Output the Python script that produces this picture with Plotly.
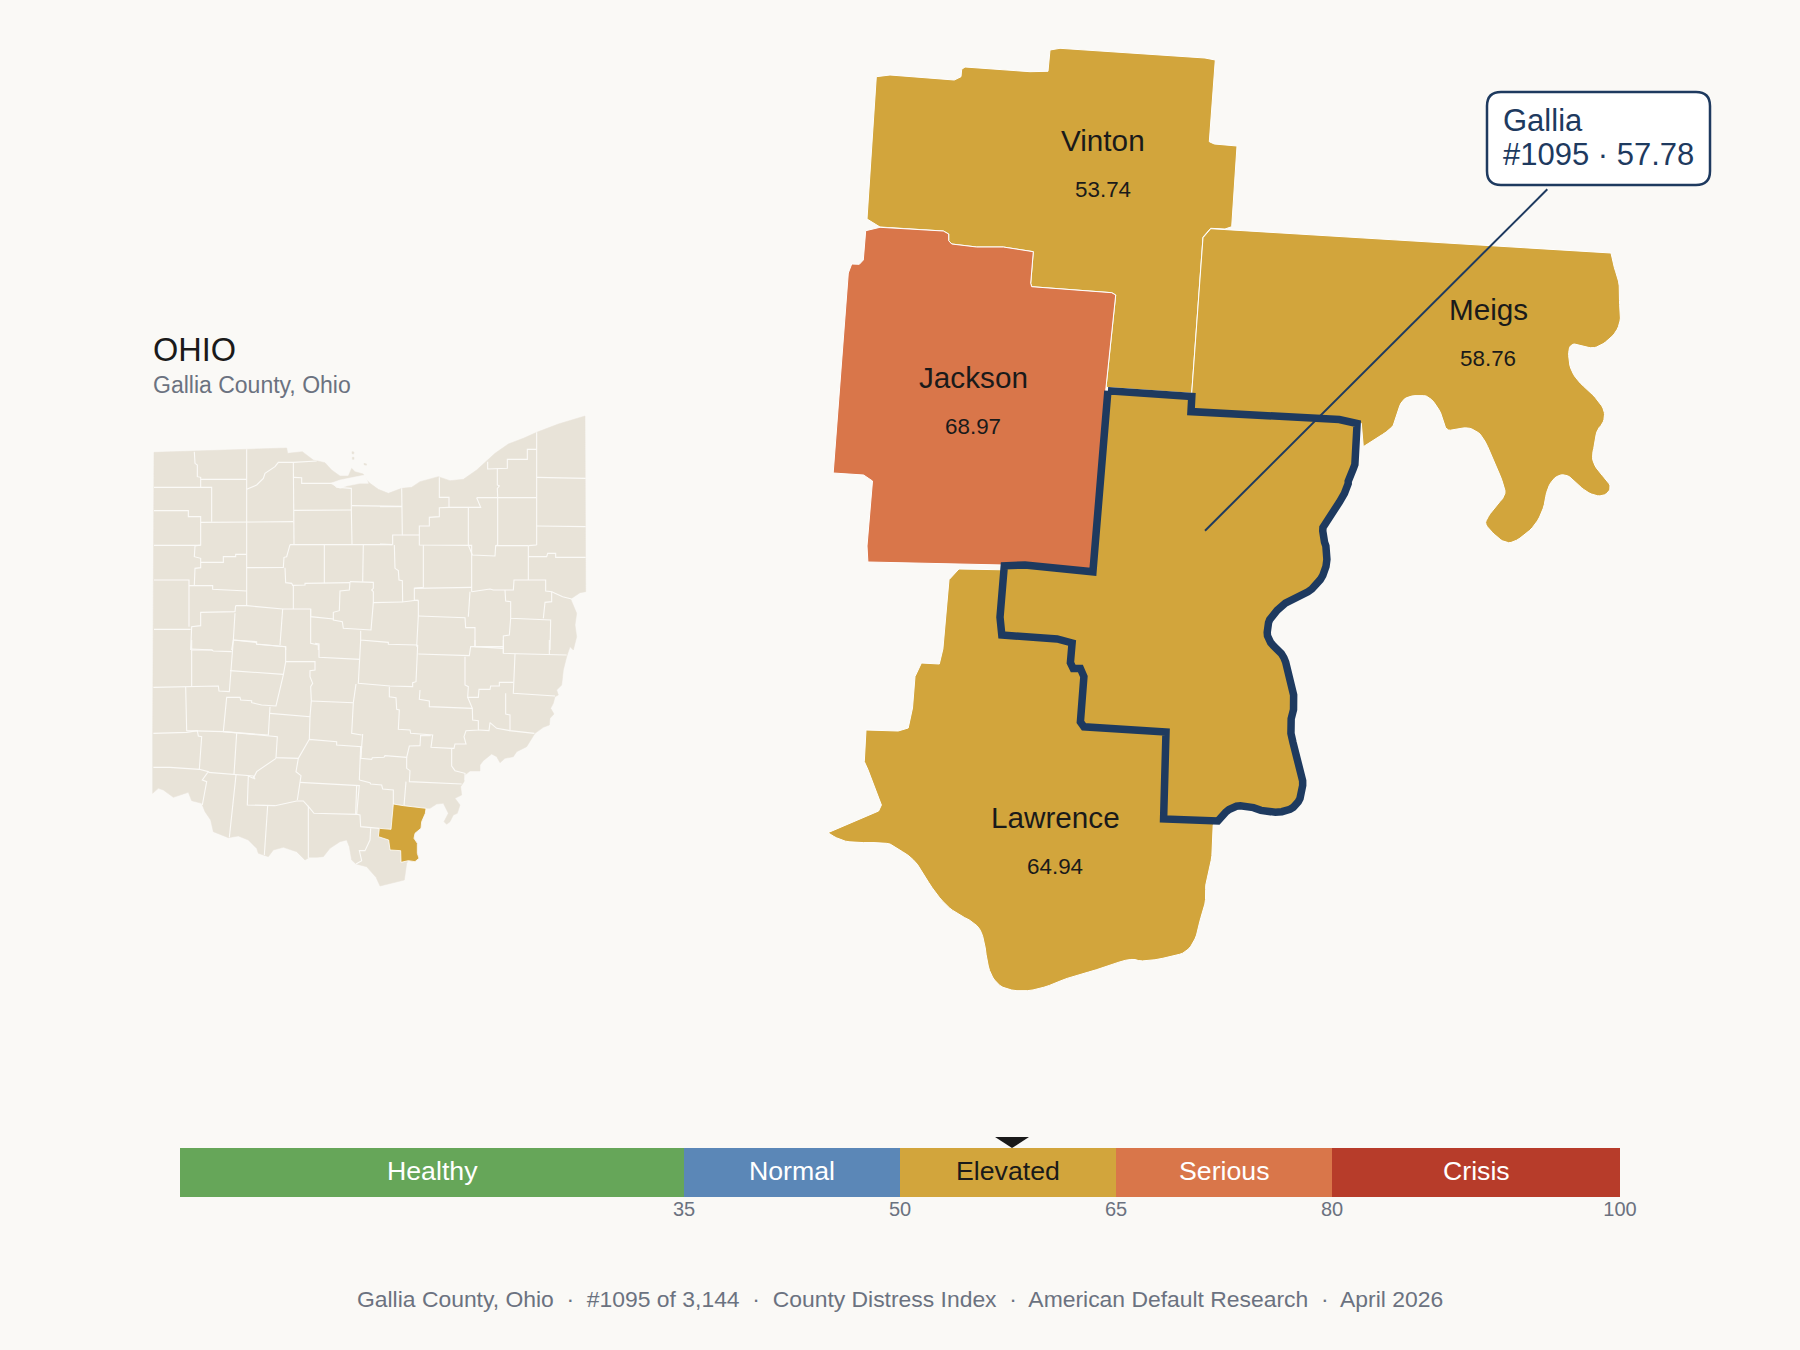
import math

import plotly.graph_objects as go

FONT = "Liberation Sans"
BG = "#faf9f6"
INK = "#1a1a1a"
NAVY = "#1e3a5f"
GREY = "#6b7280"
LAND = "#e8e3d8"
GOLD = "#d2a53c"
ORANGE = "#d9764a"

# score bar
BAND_NAMES = ["Healthy", "Normal", "Elevated", "Serious", "Crisis"]
BAND_EDGES = [0, 35, 50, 65, 80, 100]
BAND_COLORS = ["#66a659", "#5b87b7", GOLD, ORANGE, "#b73c2a"]
BAND_TEXT = ["#ffffff", "#ffffff", INK, "#ffffff", "#ffffff"]
TICK_VALUES = [35, 50, 65, 80, 100]
GALLIA_SCORE = 57.78

# county outlines on the large map
VINTON = [(876.3, 76.7), (890, 75), (954.3, 80), (961, 76.7), (961.7, 69.3), (965, 67), (1030, 71.7), (1048, 71.3),
          (1050, 50), (1060, 48.3), (1205, 58), (1215.3, 60), (1209.3, 141.7), (1214.3, 144), (1237, 146),
          (1231.7, 226.7), (1225, 229), (1210.7, 228.3), (1203, 237), (1191.7, 393.3), (1106, 387.3), (1115.7, 295),
          (1111.7, 292.7), (1031.7, 286.7), (1030.7, 283.3), (1033.3, 251.7), (1003.3, 247), (976.7, 247),
          (951.7, 244), (948.7, 240.7), (948.7, 234), (943.3, 231), (880, 227), (867, 219)]
JACKSON = [(865.7, 230.7), (880, 227.3), (943.3, 231), (948.7, 234), (948.7, 240.7), (951.7, 244), (976.7, 247),
           (1003.3, 247), (1033.3, 251.7), (1030.7, 283.3), (1031.7, 286.7), (1111.7, 292.7), (1115.7, 295),
           (1106, 387.3), (1093, 572), (1003.6, 565), (867.9, 562), (867, 546), (872.5, 481), (863.6, 475),
           (833.2, 473), (839.3, 390), (848.3, 273), (851.7, 264), (859.3, 264.3), (863.3, 260)]
MEIGS = [(1203, 237.7), (1210.7, 228.7), (1611, 253), (1613.3, 265), (1619.7, 283.3), (1619.3, 303.3), (1621, 316.7),
         (1618.3, 328.3), (1611.7, 337.3), (1601.7, 345), (1593.3, 348.3), (1585, 346.7), (1575, 343.3), (1569.3, 346),
         (1568.3, 356.7), (1570.7, 370), (1578.3, 381.7), (1591.7, 393.3), (1601.7, 405), (1605, 413.3), (1603.3, 423.3),
         (1596.7, 430), (1595, 443.3), (1591.7, 456.7), (1595, 466.7), (1603.3, 476.7), (1610.7, 485), (1609.3, 491.7),
         (1601.7, 496.7), (1590, 494), (1580, 486.7), (1570.7, 476.7), (1561.7, 474), (1553.3, 478.3), (1546.7, 490),
         (1544.3, 506.7), (1536.7, 523.3), (1525, 535), (1511.7, 543.3), (1503.3, 541.7), (1496.7, 536.7), (1485, 525),
         (1486.7, 518.3), (1496.7, 505), (1506, 495), (1503.3, 483.3), (1495, 463.3), (1483.3, 436.7), (1475, 430),
         (1466.7, 427.3), (1456.7, 429.3), (1446.7, 430.7), (1444, 423.3), (1440.7, 411.7), (1430, 396.7), (1420, 395),
         (1406.7, 396.7), (1400, 403.3), (1396, 420), (1391.7, 428.3), (1376.7, 438.3), (1363.3, 446.7), (1361.3, 423.3),
         (1190, 413.3), (1191.7, 393.3)]
LAWRENCE = [(949, 579.7), (958.9, 569), (1003.6, 569.8), (1001.8, 635), (1057.1, 639), (1072.1, 643), (1070.4, 662.7),
            (1073.2, 668.6), (1080.4, 668.6), (1083.9, 676.6), (1080.4, 722), (1083.9, 726.8), (1166, 732),
            (1166.8, 753.7), (1163.6, 818.9), (1217.9, 820.9), (1213.2, 824.8), (1212.5, 854.5), (1208.9, 870.3),
            (1205.4, 882.2), (1206, 902), (1200, 919.7), (1196.4, 937.5), (1187.5, 951.4), (1175, 956), (1142.9, 962),
            (1130.4, 958), (1100, 969), (1069.6, 977), (1046.4, 987), (1025, 991.7), (1003.6, 989), (992.9, 979),
            (987.5, 965.2), (983.9, 937.5), (976.8, 923.7), (957, 913.8), (944.6, 904), (930.4, 886), (916, 860.4),
            (894.6, 846.6), (887.5, 842.6), (850, 842.6), (837.5, 838.7), (827.9, 832.7), (878.6, 811), (881.4, 805),
            (867.9, 769.5), (864.3, 761.6), (866, 730), (898.2, 731), (908.2, 728), (912.5, 708), (915, 676.6),
            (921.4, 663), (939.3, 664), (942.9, 649)]
GALLIA = [(1107.9, 390.7), (1191.8, 396.6), (1191, 411.6), (1339.3, 419.5), (1357.1, 423.5), (1356.4, 463), (1348.2, 478),
          (1348.2, 486.8), (1335.7, 508.5), (1323.2, 522.3), (1322.5, 536.2), (1327.9, 552), (1325, 573.8), (1310.7, 591.5),
          (1291, 598.3), (1271.4, 615.3), (1266.8, 627.1), (1267.9, 641), (1283.9, 654.8), (1295.4, 702.3), (1289.3, 726),
          (1294.6, 749.7), (1299.3, 761.6), (1303.6, 783.3), (1300, 801.1), (1289.3, 811), (1267.9, 813), (1246.4, 805),
          (1230.4, 807), (1217.9, 820.9), (1163.6, 818.9), (1166.8, 753.7), (1166, 732), (1083.9, 726.8), (1080.4, 722),
          (1083.9, 676.6), (1080.4, 668.6), (1073.2, 668.6), (1070.4, 662.7), (1072.1, 643), (1057.1, 639), (1001.8, 635),
          (1000, 617.2), (1004.3, 565.8), (1025, 565), (1092.9, 571.8)]

NEIGHBOR_NAMES = ["Vinton", "Jackson", "Meigs", "Lawrence"]
NEIGHBOR_SCORES = ["53.74", "68.97", "58.76", "64.94"]
NAME_X = [1103, 973, 1488, 1055]
NAME_Y = [140, 377, 309, 817]
SCORE_Y = [189, 426, 358, 866]

COAST_A = [(42, 157), (320, 148), (440, 144), (443, 160), (487, 155), (520, 180), (555, 188), (575, 210), (600, 228),
           (625, 228), (635, 205), (645, 215), (670, 222), (680, 240), (690, 250), (715, 268)]
COAST_B = [(25, 280), (65, 265), (95, 262), (120, 245), (175, 230), (210, 242), (250, 238), (290, 210), (325, 180),
           (345, 160), (385, 132), (430, 115), (470, 97), (535, 72), (615, 48), (617, 575), (600, 578), (572, 597),
           (590, 640), (585, 675), (590, 710), (580, 750)]
COAST_C = [(690, 20), (680, 50), (670, 90), (665, 135), (650, 150), (655, 165), (645, 170), (640, 190), (632, 205),
           (642, 222), (630, 235), (628, 255), (610, 262), (585, 280), (560, 320), (530, 335), (520, 350), (495, 355),
           (480, 368), (470, 350), (455, 342), (430, 362), (420, 375), (420, 393), (390, 393), (375, 405), (372, 425),
           (362, 440), (365, 465), (345, 475), (360, 495), (352, 520), (340, 525), (330, 545), (320, 553), (312, 545),
           (325, 520), (310, 490), (290, 492), (270, 505), (258, 505), (245, 545), (243, 565), (225, 580), (222, 595),
           (232, 610), (232, 640), (237, 655), (225, 665), (205, 662), (200, 670)]
COAST_D = [(793, 720), (720, 738), (708, 712), (680, 680), (648, 672), (635, 660), (628, 620), (620, 600), (600, 605),
           (570, 625), (550, 650), (530, 652), (508, 652), (495, 660), (470, 635), (430, 622), (400, 630), (385, 650),
           (355, 640), (350, 625), (325, 600), (295, 588), (265, 593), (220, 575), (212, 540), (195, 515), (185, 490),
           (155, 482), (145, 457), (130, 462), (100, 472), (70, 450), (55, 445), (38, 460), (38, 280)]
BAY = [(572, 250), (600, 240), (640, 232), (675, 225), (685, 250), (660, 250), (620, 258), (600, 265), (590, 260)]
ISLANDS = [[(636, 155), (642, 156), (641, 162), (636, 161)], [(637, 172), (642, 172), (642, 178), (637, 178)],
           [(672, 190), (680, 192), (679, 196), (672, 194)]]
INSET_GALLIA = [(160, 492), (190, 497), (258, 505), (256, 520), (245, 545), (243, 565), (225, 580), (222, 595), (232, 610),
                (232, 640), (237, 655), (225, 665), (205, 662), (183, 667), (182, 632), (150, 630), (146, 600), (115, 590),
                (118, 565), (153, 568)]

LINES_A = [
    [(163, 155), (165, 190), (172, 195), (172, 230), (182, 232), (182, 262)],
    [(42, 262), (215, 262), (215, 365)],
    [(182, 238), (320, 238)],
    [(320, 148), (320, 615)],
    [(42, 332), (145, 332), (145, 350), (182, 350), (182, 435), (165, 438), (163, 470), (182, 475), (182, 503), (165, 505), (163, 555)],
    [(182, 367), (460, 365)],
    [(42, 436), (182, 436)],
    [(182, 487), (250, 487), (250, 470), (287, 470), (287, 463), (320, 463)],
    [(42, 540), (147, 540), (147, 680)],
    [(147, 557), (218, 557), (218, 568), (250, 570), (320, 573)],
    [(320, 268), (350, 255), (370, 235), (375, 220), (405, 200), (415, 187), (460, 187), (530, 183)],
    [(460, 187), (460, 365), (462, 432)],
    [(462, 232), (485, 233), (485, 250), (580, 250), (590, 262), (634, 265), (634, 330), (636, 432)],
    [(462, 331), (634, 330)],
    [(636, 317), (786, 319)],
    [(450, 434), (636, 434), (757, 434)],
    [(450, 434), (445, 450), (440, 470), (432, 472), (430, 502), (320, 503)],
    [(435, 503), (437, 548), (455, 550), (458, 556), (495, 555), (495, 550), (630, 548)],
    [(553, 434), (553, 550)],
    [(670, 434), (668, 545)],
    [(460, 556), (460, 627)],
    [(630, 545), (700, 547), (700, 565), (695, 570), (700, 575), (700, 608), (787, 606)],
    [(630, 545), (628, 570), (600, 573), (598, 632), (580, 637), (580, 660), (607, 665), (610, 685), (693, 690), (700, 608)],
    [(287, 617), (320, 617), (428, 627), (512, 627), (512, 650), (580, 657)],
    [(287, 617), (285, 635), (182, 637), (182, 677), (155, 680), (152, 750)],
    [(428, 627), (420, 735)],
    [(512, 627), (512, 730), (535, 735), (535, 750)],
    [(285, 640), (280, 720), (275, 750)],
    [(280, 720), (348, 727), (350, 733), (437, 740), (437, 750)],
    [(662, 692), (662, 720), (745, 727), (745, 733), (832, 735)],
    [(42, 688), (152, 688)],
    [(155, 747), (218, 750)],
]
LINES_B = [
    [(470, 97), (470, 435)],
    [(470, 232), (617, 235)],
    [(470, 378), (617, 380)],
    [(445, 437), (445, 540)],
    [(445, 470), (500, 470), (503, 460), (527, 460), (527, 472), (617, 472)],
    [(470, 148), (442, 148), (442, 178), (382, 178), (382, 205), (323, 207), (323, 185)],
    [(352, 205), (352, 255), (358, 258), (352, 265), (353, 292), (353, 435), (347, 437), (345, 468), (277, 465), (265, 435)],
    [(290, 293), (470, 293)],
    [(178, 232), (178, 292), (207, 292), (207, 322), (302, 322), (296, 310), (290, 293)],
    [(265, 322), (265, 435)],
    [(207, 322), (178, 323), (178, 350), (148, 352), (148, 378), (118, 378), (118, 435), (275, 436), (275, 575)],
    [(65, 265), (67, 405), (38, 405), (38, 435)],
    [(118, 405), (67, 405)],
    [(130, 436), (130, 562), (103, 565), (103, 600), (115, 602), (115, 648), (110, 740)],
    [(103, 565), (275, 562)],
    [(275, 575), (330, 567), (340, 570), (400, 570), (402, 540), (497, 540), (497, 573), (515, 575), (515, 605), (495, 607), (490, 655)],
    [(445, 437), (470, 435)],
    [(347, 437), (445, 437)],
    [(375, 570), (377, 603), (392, 605), (392, 655), (512, 660), (510, 750)],
    [(392, 655), (388, 705), (370, 708), (370, 745)],
    [(115, 648), (255, 653), (257, 683), (285, 683), (285, 740), (370, 745)],
    [(270, 575), (265, 650)],
    [(515, 575), (548, 590), (575, 597)],
    [(0, 320), (65, 320)],
    [(0, 432), (38, 434)],
    [(43, 435), (45, 505), (55, 512), (57, 540), (67, 542), (68, 606), (115, 600)],
]
LINES_C = [
    [(40, 142), (137, 140), (235, 138), (237, 153), (268, 155), (280, 0)],
    [(155, 30), (215, 30), (220, 33), (275, 35)],
    [(155, 0), (155, 140)],
    [(137, 140), (140, 272), (250, 275), (260, 172), (300, 172), (302, 180), (335, 182), (335, 188), (365, 195), (408, 198), (430, 105), (437, 65), (437, 20), (350, 12), (350, 5), (280, 0)],
    [(270, 92), (430, 103)],
    [(390, 200), (385, 285), (250, 275)],
    [(390, 220), (510, 230), (508, 298)],
    [(437, 65), (525, 65), (525, 90), (510, 92), (510, 110), (518, 130), (512, 140), (514, 182), (510, 230)],
    [(525, 10), (537, 12), (537, 52), (660, 58)],
    [(514, 183), (640, 188), (635, 280), (665, 285)],
    [(648, 132), (640, 188)],
    [(40, 280), (140, 277), (172, 272), (175, 288), (185, 290), (178, 388)],
    [(290, 280), (282, 403)],
    [(250, 275), (412, 290), (408, 353), (475, 355), (508, 298), (590, 305), (590, 315), (665, 320), (662, 358)],
    [(40, 382), (90, 382), (178, 388), (205, 395), (187, 420), (200, 425), (187, 495)],
    [(205, 397), (282, 403), (340, 408), (345, 418)],
    [(408, 355), (350, 395), (340, 415), (325, 408), (322, 495), (405, 497), (470, 483), (490, 483), (510, 505), (522, 520), (650, 523), (658, 435)],
    [(288, 405), (268, 592)],
    [(383, 497), (373, 645)],
    [(505, 497), (505, 655)],
    [(475, 355), (468, 395), (483, 407), (472, 480)],
    [(480, 427), (658, 437)],
]
LINES_D = [
    [(62, 0), (55, 130), (150, 138), (218, 140), (218, 128), (228, 125), (233, 15)],
    [(235, 42), (388, 47), (392, 20), (490, 20), (490, 40), (628, 45), (680, 45)],
    [(405, 0), (405, 20)],
    [(490, 0), (490, 40)],
    [(628, 0), (628, 45)],
    [(525, 42), (520, 160), (645, 168)],
    [(375, 50), (375, 135), (385, 140), (383, 172), (415, 172), (417, 148), (450, 148), (452, 138), (478, 138), (478, 127), (520, 127)],
    [(497, 160), (497, 222), (510, 225), (510, 272), (583, 280)],
    [(383, 172), (397, 205), (398, 240), (415, 242), (415, 270), (378, 272), (372, 290), (378, 312), (345, 312), (342, 325), (335, 325), (335, 378), (345, 392), (375, 400), (375, 420)],
    [(415, 270), (447, 272), (450, 248), (470, 265), (510, 272)],
    [(240, 150), (238, 178), (268, 183), (268, 200), (397, 205)],
    [(148, 140), (148, 170), (168, 173), (170, 208), (178, 210), (175, 268), (210, 270), (212, 280), (278, 285), (273, 322), (335, 325)],
    [(68, 282), (62, 355), (95, 358), (97, 353), (132, 352), (135, 347), (200, 352), (208, 318), (240, 317), (242, 285)],
    [(62, 318), (58, 420)],
    [(200, 352), (200, 385), (210, 392), (208, 425), (365, 432)],
    [(198, 425), (192, 497)],
    [(58, 420), (90, 428), (92, 432), (125, 435), (128, 447), (160, 450), (160, 492)],
    [(50, 435), (47, 522), (60, 525), (62, 560), (118, 565)],
    [(92, 565), (90, 600), (75, 632), (58, 632), (65, 662), (48, 672)],
    [(240, 287), (272, 287)],
]


def inset(points, left, top):
    # crop pixels back to picture pixels
    return [(left + x / 3, top + y / 3) for x, y in points]


def split(points):
    return [p[0] for p in points], [p[1] for p in points]


def round_river(points, cut=9, passes=2):
    # corner cutting: the traced river edges are coarser than the source
    for _ in range(passes):
        out = [points[0]]
        for (x0, y0), (x1, y1) in zip(points, points[1:]):
            t = min(0.25, cut / max(math.hypot(x1 - x0, y1 - y0), 0.01))
            out.append((x0 + t * (x1 - x0), y0 + t * (y1 - y0)))
            out.append((x1 - t * (x1 - x0), y1 - t * (y1 - y0)))
        out.append(points[-1])
        points = out
        cut /= 2
    return points


def add_shape_trace(fig, points, fill, line_color, line_width):
    x, y = split(points + points[:1])
    fig.add_trace(go.Scatter(x=x, y=y, mode="lines", fill="toself", fillcolor=fill,
                             line=dict(color=line_color, width=line_width), hoverinfo="skip"))


def add_label(fig, x, y, text, size, color=INK, anchor="center"):
    fig.add_annotation(x=x, y=y, text=text, showarrow=False, xanchor=anchor, yanchor="middle",
                       font=dict(family=FONT, size=size, color=color))


fig = go.Figure()

# inset state map
state = (inset(COAST_A, 140, 400) + inset(COAST_B, 380, 400) + inset(COAST_C, 340, 640) + inset(COAST_D, 140, 640))
add_shape_trace(fig, state, LAND, LAND, 0.5)
add_shape_trace(fig, inset(BAY, 140, 400), BG, BG, 0.5)
for island in ISLANDS:
    add_shape_trace(fig, inset(island, 140, 400), LAND, LAND, 0.5)

county_x, county_y = [], []
for group, left, top in [(LINES_A, 140, 400), (LINES_B, 380, 400), (LINES_C, 140, 640), (LINES_D, 340, 640)]:
    for line in group:
        x, y = split(inset(line, left, top))
        county_x += x + [None]
        county_y += y + [None]
fig.add_trace(go.Scatter(x=county_x, y=county_y, mode="lines", line=dict(color="#fbfaf7", width=1.1), hoverinfo="skip"))
add_shape_trace(fig, inset(INSET_GALLIA, 340, 640), GOLD, "#ffffff", 0.8)

# large map
add_shape_trace(fig, VINTON, GOLD, "#ffffff", 1)
add_shape_trace(fig, JACKSON, ORANGE, "#ffffff", 1)
add_shape_trace(fig, MEIGS[:2] + round_river(MEIGS[2:-3]) + MEIGS[-3:], GOLD, "#ffffff", 1)
add_shape_trace(fig, LAWRENCE[:16] + round_river(LAWRENCE[16:45]) + LAWRENCE[45:], GOLD, "#ffffff", 1)
add_shape_trace(fig, GALLIA[:4] + round_river(GALLIA[4:30], cut=5) + GALLIA[30:], GOLD, NAVY, 7.5)

# leader from the callout into Gallia
fig.add_trace(go.Scatter(x=[1547.3, 1205], y=[189.3, 530.7], mode="lines", line=dict(color=NAVY, width=2), hoverinfo="skip"))

# score bar
for name, low, high, color, text_color in zip(BAND_NAMES, BAND_EDGES[:-1], BAND_EDGES[1:], BAND_COLORS, BAND_TEXT):
    fig.add_trace(go.Bar(x=[high - low], y=[0], base=[low], orientation="h", width=1, xaxis="x2", yaxis="y2",
                         marker=dict(color=color, line_width=0), hoverinfo="skip"))
    fig.add_annotation(x=(low + high) / 2, y=0, xref="x2", yref="y2", yshift=2, text=name, showarrow=False,
                       font=dict(family=FONT, size=26.7, color=text_color))
fig.add_trace(go.Scatter(x=[GALLIA_SCORE - 1.18, GALLIA_SCORE + 1.18, GALLIA_SCORE, GALLIA_SCORE - 1.18], y=[1, 1, 0, 1],
                         mode="lines", fill="toself", fillcolor=INK, line=dict(color=INK, width=0), xaxis="x2", yaxis="y3",
                         hoverinfo="skip"))

for name, score, x, y, score_y in zip(NEIGHBOR_NAMES, NEIGHBOR_SCORES, NAME_X, NAME_Y, SCORE_Y):
    add_label(fig, x, y, name, 29.7)
    add_label(fig, x, score_y, score, 22.4)

add_label(fig, 151, 350, "OHIO", 32.5, anchor="left")
add_label(fig, 151, 385, "Gallia County, Ohio", 23, GREY, "left")
add_label(fig, 900, 1299, "Gallia County, Ohio  ·  #1095 of 3,144  ·  County Distress Index  ·  American Default Research  ·  April 2026", 22.9, GREY)

# callout box
left, right, top, bottom, r = 1487, 1710, 92, 185, 14
box = (f"M {left + r} {top} L {right - r} {top} Q {right} {top} {right} {top + r} L {right} {bottom - r} "
       f"Q {right} {bottom} {right - r} {bottom} L {left + r} {bottom} Q {left} {bottom} {left} {bottom - r} "
       f"L {left} {top + r} Q {left} {top} {left + r} {top} Z")
fig.add_shape(type="path", path=box, xref="x", yref="y", fillcolor="#ffffff", line=dict(color=NAVY, width=2.5), layer="above")
add_label(fig, 1501, 120, "Gallia", 31, NAVY, "left")
add_label(fig, 1501, 154, f"#1095 · {GALLIA_SCORE}", 31, NAVY, "left")

fig.update_layout(
    width=1800,
    height=1350,
    paper_bgcolor=BG,
    plot_bgcolor="rgba(0,0,0,0)",
    showlegend=False,
    margin=dict(l=0, r=0, t=0, b=0, autoexpand=False),
    barmode="overlay",
    xaxis=dict(range=[0, 1800], domain=[0, 1], visible=False, fixedrange=True),
    yaxis=dict(range=[1350, 0], domain=[0, 1], visible=False, fixedrange=True),
    xaxis2=dict(range=[0, 100], domain=[180 / 1800, 1620 / 1800], anchor="free", position=155.5 / 1350, tickmode="array",
                tickvals=TICK_VALUES, ticks="", showgrid=False, zeroline=False, showline=False,
                tickfont=dict(family=FONT, size=20, color=GREY)),
    yaxis2=dict(range=[-0.5, 0.5], domain=[153 / 1350, 202 / 1350], anchor="x2", visible=False),
    yaxis3=dict(range=[0, 1], domain=[202 / 1350, 213 / 1350], anchor="x2", visible=False),
)

# the browser's default body margin would push the 1800x1350 figure off the page
fig.write_html("out.html", config=dict(displayModeBar=False),
               post_script="document.body.style.margin = '0'; document.documentElement.style.overflow = 'hidden';")
